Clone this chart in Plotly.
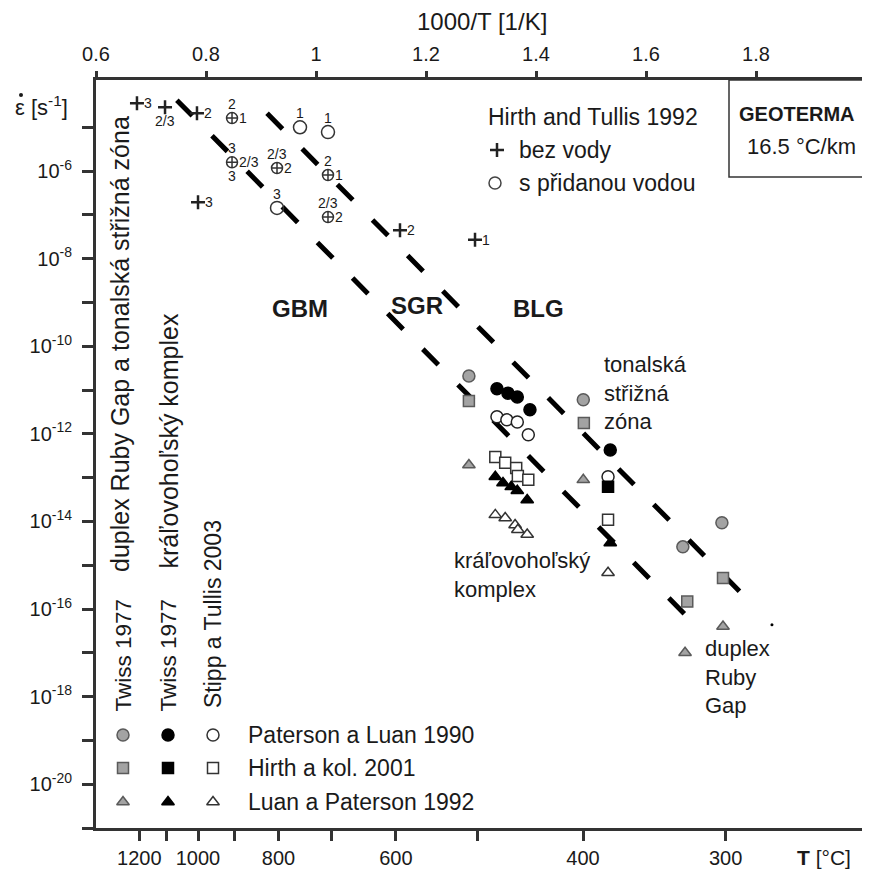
import plotly.graph_objects as go

FONT = "Liberation Sans, Arial, sans-serif"
INK = "#1a1a1a"

# ---------------- data (x = 1000/T [1/K], y = log10 strain rate [1/s]) -------------
# Hirth & Tullis 1992
ht_dry_x = [0.6745, 0.7255, 0.7836, 0.7855, 1.1527, 1.2891]
ht_dry_y = [-4.45, -4.54, -4.68, -6.71, -7.35, -7.57]
ht_wet_x = [0.9709, 1.0218, 0.9291]
ht_wet_y = [-5.00, -5.11, -6.84]
ht_both_x = [0.8473, 0.8473, 0.9291, 1.0218, 1.0218]
ht_both_y = [-4.79, -5.80, -5.93, -6.09, -7.05]
# point labels: (x, y, text, where)
ht_labels = [
    (0.6745, -4.45, "3", "r"), (0.7255, -4.54, "2/3", "b"), (0.7836, -4.68, "2", "r"),
    (0.8473, -4.79, "2", "a"), (0.8473, -4.79, "1", "r"),
    (0.9709, -5.00, "1", "a"), (1.0218, -5.11, "1", "a"),
    (0.8473, -5.80, "3", "a"), (0.8473, -5.80, "2/3", "r"), (0.8473, -5.80, "3", "b"),
    (0.9291, -5.93, "2/3", "a"), (0.9291, -5.93, "2", "r"),
    (1.0218, -6.09, "2", "a"), (1.0218, -6.09, "1", "r"),
    (0.7855, -6.71, "3", "r"), (0.9291, -6.84, "3", "a"),
    (1.0218, -7.05, "2/3", "a"), (1.0218, -7.05, "2", "r"),
    (1.1527, -7.35, "2", "r"), (1.2891, -7.57, "1", "r"),
]

# Twiss 1977 (grey) - duplex Ruby Gap & tonalská střižná zóna
tg_circ_x = [1.278, 1.486, 1.738, 1.667]
tg_circ_y = [-10.68, -11.22, -14.03, -14.58]
tg_sq_x = [1.278, 1.487, 1.740, 1.675]
tg_sq_y = [-11.25, -11.75, -15.29, -15.83]
tg_tri_x = [1.278, 1.486, 1.740, 1.671]
tg_tri_y = [-12.71, -13.05, -16.40, -17.00]
# Twiss 1977 (black) - kráľovohoľský komplex
tb_circ_x = [1.329, 1.349, 1.366, 1.389, 1.535]
tb_circ_y = [-10.97, -11.07, -11.16, -11.45, -12.37]
tb_sq_x = [1.531]
tb_sq_y = [-13.21]
tb_tri_x = [1.326, 1.340, 1.355, 1.366, 1.384, 1.535]
tb_tri_y = [-12.98, -13.12, -13.21, -13.30, -13.51, -14.49]
# Stipp a Tullis 2003 (open)
st_circ_x = [1.329, 1.347, 1.366, 1.386, 1.531]
st_circ_y = [-11.61, -11.68, -11.73, -12.02, -12.98]
st_sq_x = [1.326, 1.344, 1.364, 1.367, 1.386, 1.531]
st_sq_y = [-12.53, -12.66, -12.78, -12.96, -13.05, -13.96]
st_tri_x = [1.326, 1.344, 1.362, 1.367, 1.384, 1.531]
st_tri_y = [-13.85, -13.92, -14.08, -14.19, -14.30, -15.17]

# boundary lines (dashed)
upper_x = [0.911, 1.798]
upper_y = [-4.68, -15.95]
lower_x = [0.747, 1.702]
lower_y = [-4.38, -16.52]
end_dot_x = [1.829]
end_dot_y = [-16.36]

# axes
top_ticks = [0.6, 0.8, 1.0, 1.2, 1.4, 1.6, 1.8, 2.0]
top_labels = ["0.6", "0.8", "1", "1.2", "1.4", "1.6", "1.8", "2"]
temp_major = [1200, 1000, 800, 600, 400, 300]
temp_minor = [1100, 900, 700, 500]
y_major_exps = list(range(-20, -5, 2))
y_minor_exps = list(range(-21, -4, 2))

# ---------------- figure -------------------------------------------------------------
# target positions in the 870x873 window; the page body adds an 8px offset
OFF = 8
L, R, T, B = 96, 866, 80, 828
W, H = 870 - OFF, 873 - OFF


def px(x, y):
    return (x - L) / (R - L), (B - y) / (B - T)


def p10(v):
    return [10 ** a for a in v]


def inv_t(temps):
    return [1000 / (t + 273.15) for t in temps]


fig = go.Figure()

for xs, ys in [(upper_x, upper_y), (lower_x, lower_y)]:
    fig.add_trace(go.Scatter(x=xs, y=p10(ys), mode="lines",
                             line=dict(color="black", width=5, dash="22px,28px")))
fig.add_trace(go.Scatter(x=end_dot_x, y=p10(end_dot_y), mode="markers",
                         marker=dict(color="black", size=3)))

GREY_F, GREY_L = "#a3a3a3", "#5a5a5a"
series = [
    (tg_circ_x, tg_circ_y, "circle", GREY_F, GREY_L, 12),
    (tg_sq_x, tg_sq_y, "square", GREY_F, GREY_L, 11),
    (tg_tri_x, tg_tri_y, "triangle-up", GREY_F, GREY_L, 11),
    (st_circ_x, st_circ_y, "circle", "white", "#222", 12),
    (st_sq_x, st_sq_y, "square", "white", "#333", 11),
    (st_tri_x, st_tri_y, "triangle-up", "white", "#333", 11),
    (tb_circ_x, tb_circ_y, "circle", "black", "black", 12),
    (tb_sq_x, tb_sq_y, "square", "black", "black", 11),
    (tb_tri_x, tb_tri_y, "triangle-up", "black", "black", 11),
]
for xs, ys, sym, fc, lc, sz in series:
    fig.add_trace(go.Scatter(x=xs, y=p10(ys), mode="markers",
                             marker=dict(symbol=sym, color=fc, size=sz,
                                         line=dict(color=lc, width=1.5))))

fig.add_trace(go.Scatter(x=ht_dry_x, y=p10(ht_dry_y), mode="markers",
                         marker=dict(symbol="cross-thin", size=10, color="#222",
                                     line=dict(color="#222", width=2.5))))
fig.add_trace(go.Scatter(x=ht_wet_x, y=p10(ht_wet_y), mode="markers",
                         marker=dict(symbol="circle-open", size=13, color="#333",
                                     line=dict(color="#333", width=1.5))))
fig.add_trace(go.Scatter(x=ht_both_x, y=p10(ht_both_y), mode="markers",
                         marker=dict(symbol="circle-cross-open", size=11, color="#333",
                                     line=dict(color="#333", width=1.5))))

# bottom temperature axis (overlay)
fig.add_trace(go.Scatter(x=[None], y=[None], xaxis="x2", yaxis="y", showlegend=False))

# custom legend markers (pixel overlay axes)
leg_cols = [(123, GREY_F, GREY_L), (168, "black", "black"), (213, "white", "#333")]
leg_rows = [(735, "circle", 12), (768, "square", 11), (802, "triangle-up", 11)]
for cx, fc, lc in leg_cols:
    for ry, sym, sz in leg_rows:
        fig.add_trace(go.Scatter(x=[cx], y=[ry], xaxis="x3", yaxis="y3", mode="markers",
                                 marker=dict(symbol=sym, color=fc, size=sz,
                                             line=dict(color=lc, width=1.5))))
fig.add_trace(go.Scatter(x=[497], y=[150], xaxis="x3", yaxis="y3", mode="markers",
                         marker=dict(symbol="cross-thin", size=10, color="#222",
                                     line=dict(color="#222", width=2.5))))
fig.add_trace(go.Scatter(x=[495], y=[183], xaxis="x3", yaxis="y3", mode="markers",
                         marker=dict(symbol="circle-open", size=12, color="#444",
                                     line=dict(color="#444", width=1.5))))

ann = []


def text_px(x, y, s, size=20, xanchor="left", yanchor="middle", bold=False, angle=0, align="left"):
    xp, yp = px(x, y)
    ann.append(dict(x=xp, y=yp, xref="paper", yref="paper", text=(f"<b>{s}</b>" if bold else s),
                    showarrow=False, xanchor=xanchor, yanchor=yanchor, textangle=angle,
                    align=align, font=dict(family=FONT, size=size, color=INK)))


def text_data(x, y, s, size=20, xanchor="left", yanchor="middle", bold=False, align="left"):
    ann.append(dict(x=x, y=y, xref="x", yref="y", text=(f"<b>{s}</b>" if bold else s),
                    showarrow=False, xanchor=xanchor, yanchor=yanchor, align=align,
                    font=dict(family=FONT, size=size, color=INK)))


# Hirth & Tullis point labels
for x, y, s, w in ht_labels:
    d = dict(x=x, y=y, xref="x", yref="y", text=s, showarrow=False,
             font=dict(family=FONT, size=14, color=INK))
    if w == "r":
        d.update(xanchor="left", yanchor="middle", xshift=5)
    elif w == "a":
        d.update(xanchor="center", yanchor="bottom", yshift=4)
    else:
        d.update(xanchor="center", yanchor="top", yshift=-4)
    ann.append(d)

# region labels
text_data(0.971, -9.13, "GBM", size=24, xanchor="center", bold=True)
text_data(1.184, -9.08, "SGR", size=24, xanchor="center", bold=True)
text_data(1.404, -9.13, "BLG", size=24, xanchor="center", bold=True)
text_data(1.52, -11.07, "tonalská<br>střižná<br>zóna", size=22)
text_data(1.247, -15.23, "kráľovohoľský<br>komplex", size=22)
text_data(1.7036, -17.56, "duplex<br>Ruby<br>Gap", size=22)

# legends
text_px(486, 117, "Hirth and Tullis 1992", size=23)
text_px(517, 150, "bez vody", size=23)
text_px(517, 183, "s přidanou vodou", size=23)
text_px(246, 735, "Paterson a Luan 1990", size=23)
text_px(246, 768, "Hirth a kol. 2001", size=23)
text_px(246, 802, "Luan a Paterson 1992", size=23)
text_px(797, 114, "GEOTERMA", size=20, xanchor="center", bold=True)
text_px(801, 146, "16.5 °C/km", size=22, xanchor="center")

# vertical labels
text_px(120, 574, "duplex Ruby Gap a tonalská střižná zóna", size=25, xanchor="center", yanchor="bottom", angle=-90)
text_px(168, 571, "kráľovohoľský komplex", size=25, xanchor="center", yanchor="bottom", angle=-90)
text_px(123, 714, "Twiss 1977", size=22.5, xanchor="center", yanchor="bottom", angle=-90)
text_px(168, 714, "Twiss 1977", size=22.5, xanchor="center", yanchor="bottom", angle=-90)
text_px(213, 710, "Stipp a Tullis 2003", size=23, xanchor="center", yanchor="bottom", angle=-90)

# axis titles
text_px(482, 21, "1000/T [1/K]", size=24, xanchor="center")
text_px(824, 857, "<b>T</b> [°C]", size=21, xanchor="center")
text_px(13, 106, "ε [s<sup>-1</sup>]", size=22, xanchor="left")

fig.update_layout(annotations=ann)

# dot over epsilon
dx0, dy0 = px(19, 97)
dx1, dy1 = px(23, 93)
fig.add_shape(type="circle", xref="paper", yref="paper", x0=dx0, x1=dx1, y0=dy0, y1=dy1,
              line=dict(width=0), fillcolor=INK)

fig.add_shape(type="rect", xref="paper", yref="paper",
              x0=px(729, 0)[0], x1=1.0, y0=px(0, 177)[1], y1=1.0,
              line=dict(color="#333", width=1.5), fillcolor="rgba(0,0,0,0)")

axis_line = dict(showline=True, linecolor="#333", linewidth=3, ticks="outside",
                 tickwidth=2.5, tickcolor="#333", showgrid=False, zeroline=False,
                 automargin=False, tickfont=dict(family=FONT, size=20, color=INK))

fig.update_layout(
    width=W, height=H,
    margin=dict(l=L - OFF, r=870 - R, t=T - OFF, b=873 - B, autoexpand=False),
    paper_bgcolor="white", plot_bgcolor="white",
    showlegend=False,
    xaxis=dict(range=[0.6, 2.0], side="top", tickvals=top_ticks, ticktext=top_labels,
               ticklen=6, ticklabelstandoff=2, **axis_line),
    xaxis2=dict(range=[0.6, 2.0], overlaying="x", side="bottom",
                tickvals=inv_t(temp_major), ticktext=[str(t) for t in temp_major],
                ticklen=10,
                minor=dict(tickvals=inv_t(temp_minor), ticks="outside", ticklen=10,
                           tickwidth=2.5, tickcolor="#333", showgrid=False),
                **axis_line),
    yaxis=dict(type="log", range=[-21, -3.92], mirror="ticks", ticklen=11,
               ticklabelstandoff=6,
               tickvals=p10(y_major_exps),
               ticktext=[f"10<sup>{e}</sup>" for e in y_major_exps],
               minor=dict(tickvals=p10(y_minor_exps), ticks="outside", ticklen=11,
                          tickwidth=2.5, tickcolor="#333", showgrid=False),
               **axis_line),
    xaxis3=dict(range=[L, R], overlaying="x", visible=False),
    yaxis3=dict(range=[B, T], overlaying="y", visible=False),
)

fig.write_html("out.html")
